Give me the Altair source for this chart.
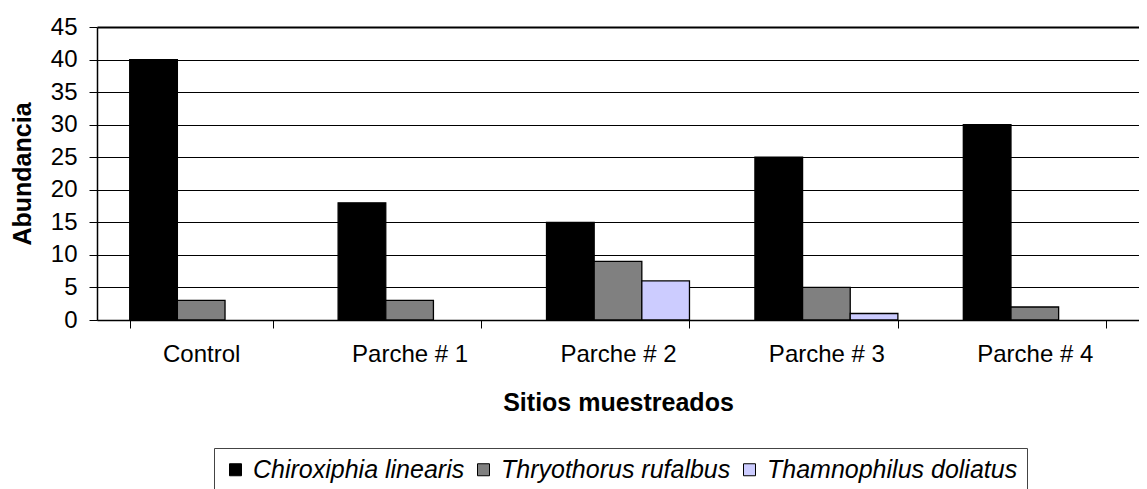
import altair as alt
import pandas as pd

sitios = ["Control", "Parche # 1", "Parche # 2", "Parche # 3", "Parche # 4"]
especies = ["Chiroxiphia linearis", "Thryothorus rufalbus", "Thamnophilus doliatus"]
chiroxiphia = [40, 18, 15, 25, 30]
thryothorus = [3, 3, 9, 5, 2]
thamnophilus = [0, 0, 6, 1, 0]
colores = ["#000000", "#808080", "#CCCCFF"]
y_ticks = [0, 5, 10, 15, 20, 25, 30, 35, 40, 45]

rows = []
for sp, vals in zip(especies, [chiroxiphia, thryothorus, thamnophilus]):
    for s, v in zip(sitios, vals):
        rows.append({"Sitio": s, "Especie": sp, "Abundancia": v})
df = pd.DataFrame(rows)

FONT = "Liberation Sans"

chart = alt.Chart(df).transform_filter(
    "datum.Abundancia > 0"
).mark_bar(stroke="black", strokeWidth=1.3).encode(
    x=alt.X(
        "Sitio:N",
        sort=sitios,
        scale=alt.Scale(domain=sitios, paddingInner=0.314, paddingOuter=0.157),
        axis=alt.Axis(
            title="Sitios muestreados",
            labelAngle=0,
            tickBand="extent",
            ticks=True,
            tickSize=8,
            tickColor="black",
            domainColor="black",
            domainWidth=1.5,
            labelPadding=14,
            titlePadding=24,
            grid=False,
        ),
    ),
    xOffset=alt.XOffset("Especie:N",
                        scale=alt.Scale(domain=especies, paddingInner=0, paddingOuter=0)),
    y=alt.Y(
        "Abundancia:Q",
        scale=alt.Scale(domain=[0, 45], nice=False),
        axis=alt.Axis(
            title="Abundancia",
            values=y_ticks,
            tickSize=8,
            tickColor="black",
            domainColor="black",
            domainWidth=1.5,
            labelPadding=12,
            titlePadding=15,
            grid=True,
            gridColor="black",
            gridWidth={"condition": {"test": "datum.value === 45", "value": 2}, "value": 1},
        ),
    ),
    color=alt.Color(
        "Especie:N",
        scale=alt.Scale(domain=especies, range=colores),
        legend=alt.Legend(
            title=None,
            orient="none",
            legendX=117,
            legendY=421,
            direction="horizontal",
            strokeColor="#444444",
            fillColor="white",
            padding=9,
            symbolType="square",
            symbolSize=144,
            symbolStrokeColor="black",
            symbolStrokeWidth=1,
            symbolOpacity=1,
            labelFont=FONT,
            labelFontSize=25,
            labelFontStyle="italic",
            labelColor="black",
            labelLimit=0,
            labelOffset=5,
            columnPadding=6,
        ),
    ),
).properties(
    width=1042,
    height=293,
    autosize=alt.AutoSizeParams(type="none"),
    padding={"left": 89, "top": 19, "right": 0, "bottom": 169},
).configure_view(stroke=None).configure_axis(
    labelFont=FONT,
    labelFontSize=24,
    labelColor="black",
    titleFont=FONT,
    titleFontSize=25,
    titleFontWeight="bold",
    titleColor="black",
)

chart.save("out.html", embed_options={"renderer": "svg", "actions": False})
